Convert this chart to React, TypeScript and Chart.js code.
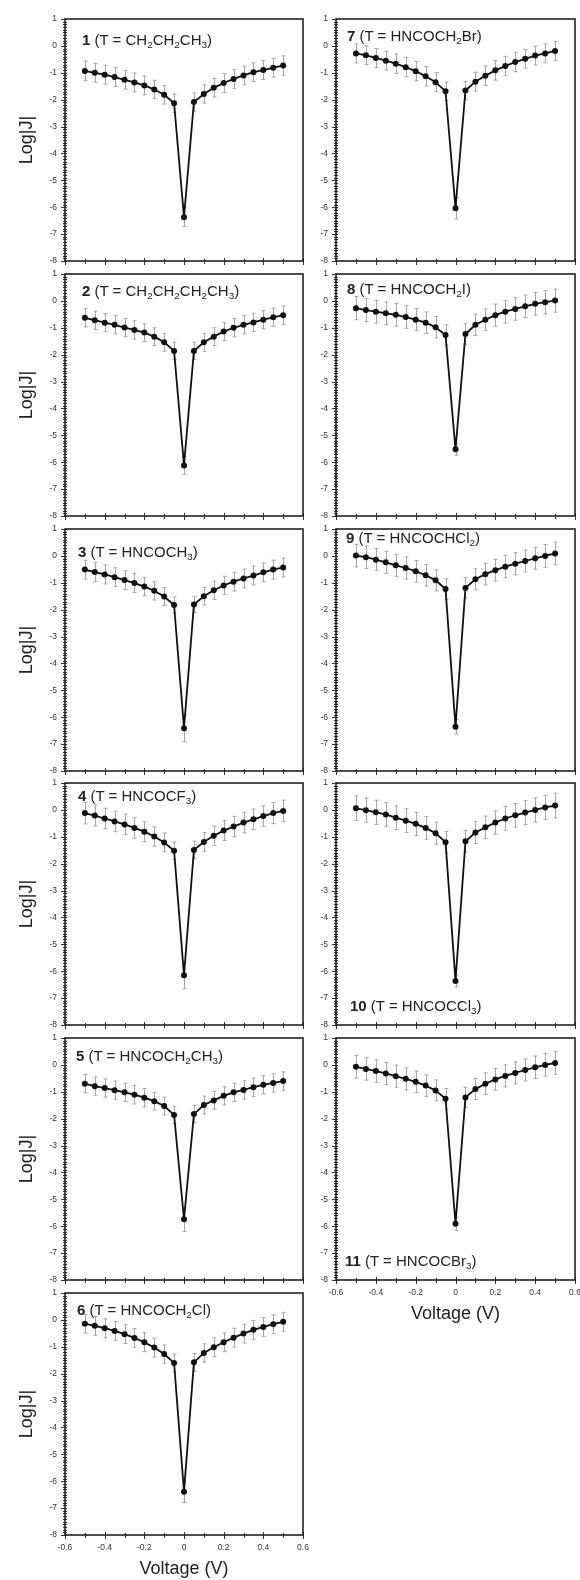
import React, { useEffect, useRef } from 'react';
import { Chart, registerables } from 'chart.js';

Chart.register(...registerables);

// ---------- data ----------
const VOLTAGE = [-0.5, -0.45, -0.4, -0.35, -0.3, -0.25, -0.2, -0.15, -0.1, -0.05, 0, 0.05, 0.1, 0.15, 0.2, 0.25, 0.3, 0.35, 0.4, 0.45, 0.5];

const X_TICK_VALUES = [-0.6, -0.4, -0.2, 0, 0.2, 0.4, 0.6];
const X_TICK_LABELS = ['-0.6', '-0.4', '-0.2', '0', '0.2', '0.4', '0.6'];
const Y_TICK_VALUES = [1, 0, -1, -2, -3, -4, -5, -6, -7, -8];
const Y_TICK_LABELS = ['1', '0', '-1', '-2', '-3', '-4', '-5', '-6', '-7', '-8'];

const P1_LOGJ = [-0.93, -1.0, -1.07, -1.16, -1.26, -1.36, -1.47, -1.62, -1.82, -2.13, -6.37, -2.09, -1.79, -1.56, -1.38, -1.23, -1.1, -0.98, -0.9, -0.81, -0.73];
const P1_ERR = [0.36, 0.35, 0.35, 0.35, 0.35, 0.35, 0.35, 0.34, 0.34, 0.34, 0.35, 0.34, 0.34, 0.34, 0.35, 0.35, 0.35, 0.35, 0.35, 0.35, 0.36];
const P2_LOGJ = [-0.63, -0.72, -0.81, -0.89, -0.99, -1.08, -1.18, -1.33, -1.54, -1.86, -6.12, -1.86, -1.54, -1.33, -1.14, -1.0, -0.89, -0.8, -0.7, -0.61, -0.53];
const P2_ERR = [0.34, 0.34, 0.34, 0.34, 0.34, 0.34, 0.33, 0.33, 0.33, 0.32, 0.33, 0.32, 0.33, 0.33, 0.33, 0.34, 0.34, 0.34, 0.34, 0.34, 0.34];
const P3_LOGJ = [-0.51, -0.6, -0.69, -0.79, -0.9, -1.01, -1.14, -1.3, -1.51, -1.83, -6.41, -1.81, -1.5, -1.28, -1.1, -0.96, -0.84, -0.73, -0.61, -0.51, -0.43];
const P3_ERR = [0.35, 0.35, 0.35, 0.35, 0.35, 0.35, 0.34, 0.34, 0.33, 0.3, 0.5, 0.3, 0.33, 0.34, 0.34, 0.35, 0.35, 0.35, 0.35, 0.35, 0.35];
const P4_LOGJ = [-0.12, -0.21, -0.32, -0.43, -0.54, -0.67, -0.81, -0.99, -1.21, -1.52, -6.15, -1.49, -1.19, -0.96, -0.77, -0.62, -0.47, -0.35, -0.23, -0.12, -0.04];
const P4_ERR = [0.4, 0.39, 0.38, 0.38, 0.38, 0.38, 0.37, 0.36, 0.35, 0.33, 0.5, 0.33, 0.35, 0.36, 0.37, 0.38, 0.38, 0.38, 0.38, 0.39, 0.4];
const P5_LOGJ = [-0.7, -0.79, -0.86, -0.94, -1.02, -1.11, -1.22, -1.35, -1.53, -1.86, -5.74, -1.83, -1.49, -1.32, -1.15, -1.02, -0.93, -0.83, -0.74, -0.67, -0.6];
const P5_ERR = [0.34, 0.34, 0.34, 0.34, 0.34, 0.34, 0.34, 0.33, 0.33, 0.32, 0.45, 0.32, 0.33, 0.33, 0.34, 0.34, 0.34, 0.34, 0.34, 0.34, 0.34];
const P6_LOGJ = [-0.14, -0.22, -0.31, -0.41, -0.53, -0.67, -0.83, -1.03, -1.27, -1.6, -6.39, -1.58, -1.23, -1.02, -0.83, -0.66, -0.51, -0.37, -0.26, -0.16, -0.07];
const P6_ERR = [0.35, 0.35, 0.35, 0.35, 0.35, 0.35, 0.35, 0.35, 0.34, 0.33, 0.4, 0.33, 0.34, 0.35, 0.35, 0.35, 0.35, 0.35, 0.35, 0.35, 0.35];
const P7_LOGJ = [-0.28, -0.35, -0.45, -0.55, -0.66, -0.79, -0.94, -1.13, -1.35, -1.69, -6.04, -1.66, -1.33, -1.11, -0.91, -0.75, -0.6, -0.48, -0.36, -0.28, -0.19];
const P7_ERR = [0.35, 0.35, 0.35, 0.35, 0.36, 0.36, 0.36, 0.36, 0.35, 0.34, 0.4, 0.34, 0.35, 0.36, 0.36, 0.36, 0.36, 0.35, 0.35, 0.35, 0.35];
const P8_LOGJ = [-0.27, -0.34, -0.4, -0.46, -0.52, -0.6, -0.7, -0.81, -0.98, -1.27, -5.52, -1.23, -0.89, -0.7, -0.53, -0.4, -0.3, -0.2, -0.11, -0.05, 0.01];
const P8_ERR = [0.43, 0.43, 0.42, 0.42, 0.42, 0.42, 0.41, 0.4, 0.4, 0.38, 0.22, 0.38, 0.4, 0.4, 0.41, 0.42, 0.42, 0.42, 0.42, 0.43, 0.43];
const P9_LOGJ = [0.01, -0.05, -0.14, -0.24, -0.35, -0.45, -0.57, -0.72, -0.91, -1.23, -6.35, -1.19, -0.87, -0.68, -0.53, -0.4, -0.29, -0.19, -0.09, 0.0, 0.09];
const P9_ERR = [0.42, 0.42, 0.41, 0.41, 0.41, 0.41, 0.4, 0.4, 0.39, 0.38, 0.27, 0.38, 0.39, 0.4, 0.4, 0.41, 0.41, 0.41, 0.41, 0.42, 0.42];
const P10_LOGJ = [0.06, -0.01, -0.09, -0.17, -0.29, -0.4, -0.52, -0.67, -0.87, -1.2, -6.36, -1.17, -0.84, -0.65, -0.47, -0.32, -0.2, -0.1, 0.0, 0.09, 0.16];
const P10_ERR = [0.46, 0.45, 0.45, 0.44, 0.44, 0.44, 0.43, 0.42, 0.41, 0.4, 0.22, 0.4, 0.41, 0.42, 0.43, 0.44, 0.44, 0.44, 0.45, 0.45, 0.46];
const P11_LOGJ = [-0.07, -0.15, -0.23, -0.32, -0.42, -0.52, -0.63, -0.77, -0.95, -1.26, -5.91, -1.21, -0.9, -0.7, -0.54, -0.41, -0.3, -0.19, -0.09, 0.0, 0.07];
const P11_ERR = [0.42, 0.42, 0.42, 0.41, 0.41, 0.41, 0.4, 0.4, 0.39, 0.38, 0.25, 0.38, 0.39, 0.4, 0.4, 0.41, 0.41, 0.41, 0.42, 0.42, 0.42];

const PANEL_NUMBERS = ['1', '2', '3', '4', '5', '6', '7', '8', '9', '10', '11'];
const PANEL_GROUPS = [
  'CH_2CH_2CH_3',
  'CH_2CH_2CH_2CH_3',
  'HNCOCH_3',
  'HNCOCF_3',
  'HNCOCH_2CH_3',
  'HNCOCH_2Cl',
  'HNCOCH_2Br',
  'HNCOCH_2I',
  'HNCOCHCl_2',
  'HNCOCCl_3',
  'HNCOCBr_3',
];
const PANEL_LOGJ = [P1_LOGJ, P2_LOGJ, P3_LOGJ, P4_LOGJ, P5_LOGJ, P6_LOGJ, P7_LOGJ, P8_LOGJ, P9_LOGJ, P10_LOGJ, P11_LOGJ];
const PANEL_ERR = [P1_ERR, P2_ERR, P3_ERR, P4_ERR, P5_ERR, P6_ERR, P7_ERR, P8_ERR, P9_ERR, P10_ERR, P11_ERR];

const X_TITLE = 'Voltage (V)';
const Y_TITLE = 'Log|J|';

// ---------- layout (positions / styles) ----------
const FONT = 'Arial, "Liberation Sans", Helvetica, sans-serif';
const PLOT_H = 242;
const PAD = 14; // room reserved around the plot box for Chart.js label overhang
const LEFT_TOPS = [19, 274, 529, 783, 1038, 1293];
const RIGHT_TOPS = [19, 274, 529, 783, 1038];
// label placement: [x offset from plot left, baseline offset from plot top (or from bottom if negative)]
const LABEL_POS = [
  [17, 26], [17, 22], [13, 28], [13, 18], [11, 23], [12, 22],
  [11, 22], [11, 20], [10, 14], [14, -14], [9, -14],
];

type PanelProps = { idx: number; col: number; row: number; bottom: boolean };

function GroupText({ text }: { text: string }) {
  const parts: React.ReactNode[] = [];
  let i = 0;
  let buf = '';
  let key = 0;
  while (i < text.length) {
    if (text[i] === '_' && i + 1 < text.length) {
      if (buf) { parts.push(<span key={key++}>{buf}</span>); buf = ''; }
      parts.push(
        <sub key={key++} style={{ fontSize: '0.66em', verticalAlign: 'baseline', position: 'relative', top: '0.28em' }}>{text[i + 1]}</sub>
      );
      i += 2;
    } else {
      buf += text[i];
      i++;
    }
  }
  if (buf) parts.push(<span key={key++}>{buf}</span>);
  return <>{parts}</>;
}

function Panel({ idx, col, row, bottom }: PanelProps) {
  const ref = useRef<HTMLCanvasElement | null>(null);
  const isLeft = col === 0;
  const plotTop = isLeft ? LEFT_TOPS[row] : RIGHT_TOPS[row];
  const plotLeft = isLeft ? 65 : 336;
  const plotRight = isLeft ? 303 : 575;
  const yAxisW = isLeft ? 65 : 46;
  const canvasLeft = plotLeft - yAxisW;
  const canvasW = plotRight + PAD - canvasLeft;
  const xAxisH = bottom ? 45 : PAD;
  const canvasTop = plotTop - PAD;
  const canvasH = PAD + PLOT_H + xAxisH;

  useEffect(() => {
    const canvas = ref.current;
    if (!canvas) return;
    const vals = PANEL_LOGJ[idx];
    const errs = PANEL_ERR[idx];

    const errorBars = {
      id: 'errorBars' + idx,
      beforeDatasetsDraw(chart: any) {
        const { ctx, scales } = chart;
        const xs = scales.x;
        const ys = scales.y;
        ctx.save();
        ctx.strokeStyle = '#a6a6a6';
        ctx.lineWidth = 1;
        for (let i = 0; i < VOLTAGE.length; i++) {
          const px = Math.round(xs.getPixelForValue(VOLTAGE[i])) + 0.5;
          const y1 = ys.getPixelForValue(vals[i] + errs[i]);
          const y2 = ys.getPixelForValue(vals[i] - errs[i]);
          ctx.beginPath();
          ctx.moveTo(px, y1);
          ctx.lineTo(px, y2);
          ctx.moveTo(px - 2, y1);
          ctx.lineTo(px + 2, y1);
          ctx.moveTo(px - 2, y2);
          ctx.lineTo(px + 2, y2);
          ctx.stroke();
        }
        ctx.restore();
      },
    };

    const frame = {
      id: 'frame' + idx,
      afterDraw(chart: any) {
        const { ctx, chartArea, scales } = chart;
        const { left, right, top, bottom: b } = chartArea;
        const xs = scales.x;
        const ys = scales.y;
        ctx.save();
        ctx.strokeStyle = '#333';
        ctx.lineWidth = 1;
        ctx.beginPath();
        // y minor ticks every 0.1
        for (let k = -80; k <= 10; k++) {
          const py = Math.round(ys.getPixelForValue(k / 10)) + 0.5;
          ctx.moveTo(left - 2, py);
          ctx.lineTo(left + 2, py);
        }
        for (const v of Y_TICK_VALUES) {
          const py = Math.round(ys.getPixelForValue(v)) + 0.5;
          ctx.moveTo(left - 4, py);
          ctx.lineTo(left + 2, py);
        }
        // x ticks every 0.1
        for (let k = -6; k <= 6; k++) {
          const px = Math.round(xs.getPixelForValue(k / 10)) + 0.5;
          const major = k % 2 === 0;
          ctx.moveTo(px, b - (major ? 3 : 2));
          ctx.lineTo(px, b + (major ? 4 : 3));
        }
        ctx.stroke();
        ctx.strokeStyle = '#222';
        ctx.lineWidth = 1.6;
        ctx.strokeRect(left, top, right - left, b - top);
        ctx.restore();
      },
    };

    const chart = new Chart(canvas, {
      type: 'line',
      data: {
        datasets: [
          {
            data: VOLTAGE.map((x, i) => ({ x, y: vals[i] })),
            borderColor: '#111',
            borderWidth: 1.8,
            backgroundColor: '#111',
            pointBackgroundColor: '#111',
            pointBorderColor: '#111',
            pointBorderWidth: 0,
            pointRadius: 3,
            tension: 0,
            fill: false,
          },
        ],
      },
      options: {
        responsive: false,
        animation: false,
        devicePixelRatio: 1,
        layout: { padding: { left: 0, right: PAD, top: PAD, bottom: 0 } },
        plugins: {
          legend: { display: false },
          tooltip: { enabled: false },
          title: { display: false },
        },
        scales: {
          x: {
            type: 'linear',
            min: -0.6,
            max: 0.6,
            grid: { display: false, drawTicks: false },
            border: { display: false },
            ticks: {
              display: bottom,
              stepSize: 0.2,
              padding: 8,
              autoSkip: false,
              maxRotation: 0,
              color: '#333',
              font: { size: 8.5, family: FONT },
              callback: (v: any) => {
                const j = X_TICK_VALUES.findIndex((t) => Math.abs(t - Number(v)) < 1e-6);
                return j >= 0 ? X_TICK_LABELS[j] : '';
              },
            },
            title: {
              display: bottom,
              text: X_TITLE,
              color: '#222',
              font: { size: 18, family: FONT },
              padding: { top: 0, bottom: 0 },
            },
            afterFit: (s: any) => {
              s.height = xAxisH;
            },
          },
          y: {
            type: 'linear',
            min: -8,
            max: 1,
            grid: { display: false, drawTicks: false },
            border: { display: false },
            ticks: {
              stepSize: 1,
              padding: 8,
              color: '#333',
              font: { size: 8.5, family: FONT },
              callback: (v: any) => {
                const j = Y_TICK_VALUES.findIndex((t) => Math.abs(t - Number(v)) < 1e-6);
                return j >= 0 ? Y_TICK_LABELS[j] : '';
              },
            },
            title: {
              display: isLeft,
              text: Y_TITLE,
              color: '#222',
              font: { size: 18, family: FONT },
              padding: { top: 16, bottom: 0 },
            },
            afterFit: (s: any) => {
              s.width = yAxisW;
            },
          },
        },
      },
      plugins: [errorBars, frame],
    } as any);
    return () => chart.destroy();
  }, [idx, col, row, bottom]);

  const [lx, lb] = LABEL_POS[idx];
  const baseline = lb >= 0 ? plotTop + lb : plotTop + PLOT_H + lb;
  const fs = 15;

  return (
    <>
      <canvas
        ref={ref}
        width={canvasW}
        height={canvasH}
        style={{ position: 'absolute', left: canvasLeft, top: canvasTop, width: canvasW, height: canvasH }}
      />
      <div
        style={{
          position: 'absolute',
          left: plotLeft + lx,
          top: baseline - 12.7,
          fontFamily: FONT,
          fontSize: fs,
          lineHeight: `${fs}px`,
          color: '#222',
          whiteSpace: 'nowrap',
        }}
      >
        <b>{PANEL_NUMBERS[idx]}</b> (T = <GroupText text={PANEL_GROUPS[idx]} />)
      </div>
    </>
  );
}

export default function App() {
  const panels: PanelProps[] = [];
  for (let r = 0; r < 6; r++) panels.push({ idx: r, col: 0, row: r, bottom: r === 5 });
  for (let r = 0; r < 5; r++) panels.push({ idx: 6 + r, col: 1, row: r, bottom: r === 4 });
  return (
    <div
      style={{
        position: 'absolute',
        left: 0,
        top: 0,
        width: 580,
        height: 1580,
        overflow: 'hidden',
        background: '#fff',
      }}
    >
      {panels.map((p) => (
        <Panel key={p.idx} {...p} />
      ))}
    </div>
  );
}
